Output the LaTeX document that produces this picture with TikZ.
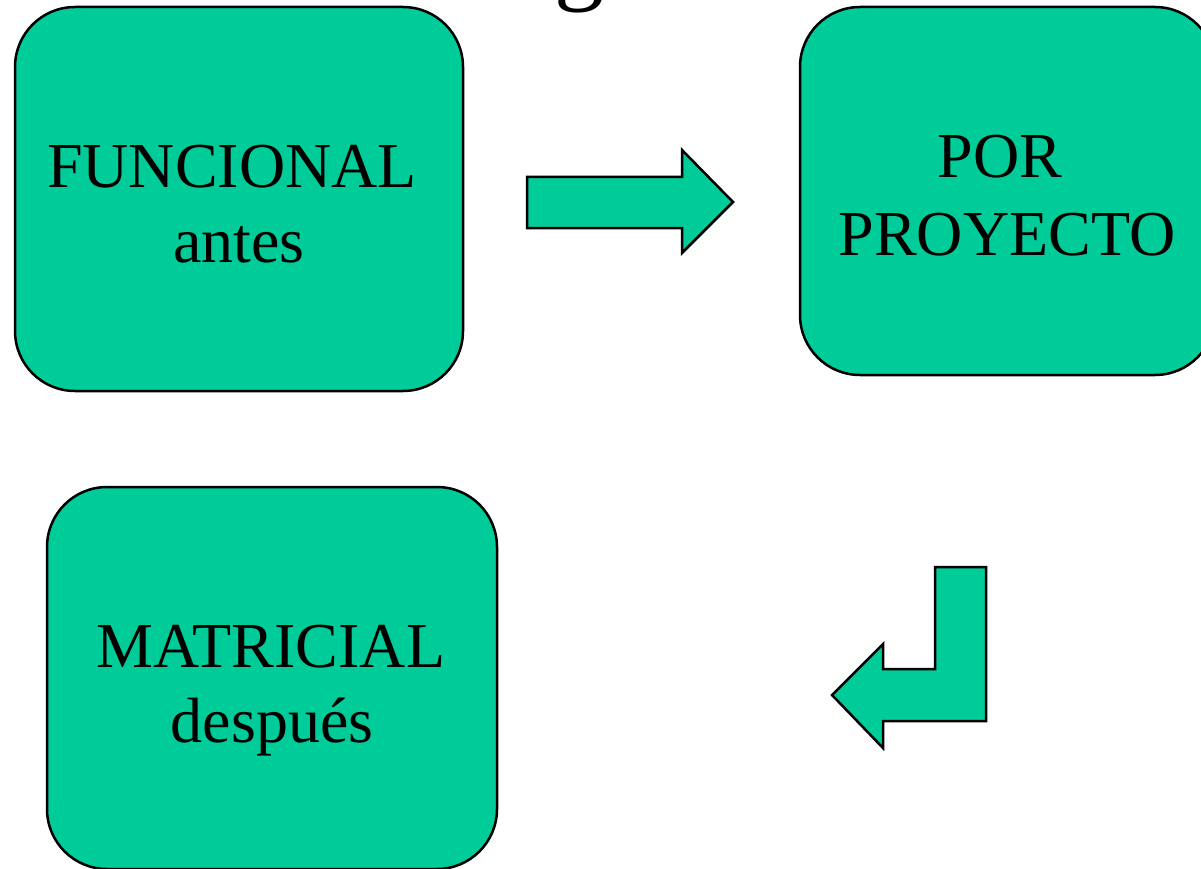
\documentclass[tikz,border=0pt]{standalone}
\usepackage{fontspec}
\setmainfont{Liberation Serif}
\definecolor{boxgreen}{RGB}{0,204,153}
\tikzset{
  box/.style={draw=black, line width=2.5pt, fill=boxgreen, rounded corners=60pt, inner sep=0pt},
  txt/.style={font=\fontsize{64}{74}\selectfont, anchor=base, inner sep=0pt},
  bigarrow/.style={draw=black, line width=2.5pt, fill=boxgreen, line join=miter},
}
\begin{document}
\begin{tikzpicture}[x=1pt, y=-1pt]
\useasboundingbox (0,0) rectangle (1201,869);
\clip (0,0) rectangle (1201,869);
% title fragment
\node[font=\fontsize{100}{110}\selectfont, anchor=base, inner sep=0pt] (title) at (579,-8) {g};
% boxes
\node[box, minimum width=448pt, minimum height=384pt] (b1) at (239,199) {};
\node[box, minimum width=415pt, minimum height=368pt] (b2) at (1007.5,191) {};
\node[box, minimum width=450pt, minimum height=382pt] (b3) at (272,678) {};
% texts
\node[txt] (t1a) at (232,188) {FUNCIONAL};
\node[txt] (t1b) at (239,262) {antes};
\node[txt] (t2a) at (1000,178) {POR};
\node[txt] (t2b) at (1007,255) {PROYECTO};
\node[txt] (t3a) at (271,667) {MATRICIAL};
\node[txt] (t3b) at (272,742) {después};
% right arrow
\draw[bigarrow] (527,177) -- (682,177) -- (682,150) -- (733,202) -- (682,253) -- (682,228) -- (527,228) -- cycle;
% bent arrow
\draw[bigarrow] (935,567) -- (986,567) -- (986,721) -- (883,721) -- (883,748) -- (832,695) -- (883,644) -- (883,669) -- (935,669) -- cycle;
\end{tikzpicture}
\end{document}
